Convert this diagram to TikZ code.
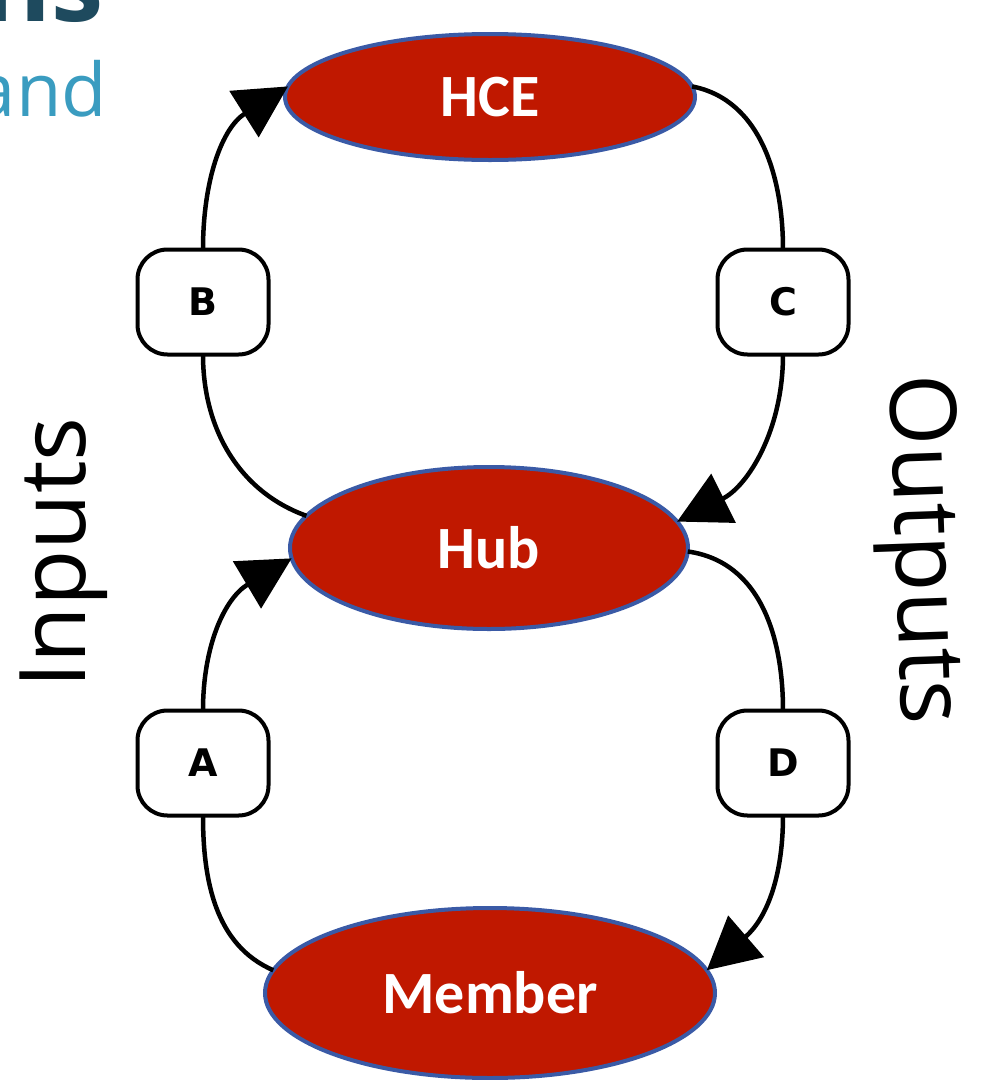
\documentclass[tikz,border=0pt]{standalone}
\usepackage{fontspec}
\setmainfont{Open Sans}
\newfontfamily\calib{Carlito}
\newfontfamily\boxfont{DejaVu Sans}
\usetikzlibrary{arrows.meta,shapes.geometric}
\definecolor{ellred}{HTML}{C01800}
\definecolor{ellblue}{HTML}{3A5AA6}
\definecolor{titleteal}{HTML}{1E4A5E}
\definecolor{subblue}{HTML}{3A9CC0}
\tikzset{
  ell/.style={ellipse, draw=ellblue, line width=4pt, fill=ellred, text=white,
    font=\calib\bfseries\fontsize{60}{60}\selectfont, inner sep=0pt, outer sep=0pt},
  lblbox/.style={draw=black, line width=4pt, fill=white, rounded corners=30pt,
    minimum width=131pt, minimum height=105pt, inner sep=0pt, outer sep=0pt,
    font=\boxfont\bfseries\fontsize{38}{38}\selectfont},
  conn/.style={draw=black, line width=4.5pt},
  tipped/.style={conn, -{Triangle[length=52pt,width=54pt]}},
  sidetext/.style={font=\fontsize{92}{92}\selectfont, inner sep=0pt}
}
\begin{document}
\begin{tikzpicture}[x=1pt,y=-1pt]
\useasboundingbox (0,0) rectangle (987,1080);
\clip (0,0) rectangle (987,1080);
% title fragments
\node[anchor=base east, inner sep=0pt, text=titleteal, font=\bfseries\fontsize{105}{105}\selectfont] (ttl) at (104,21) {ns};
\node[anchor=base east, inner sep=0pt, text=subblue, font=\fontsize{74}{74}\selectfont] (sub) at (107,116) {and};
% ellipses
\node[ell, minimum width=410pt, minimum height=126pt] (hce) at (490,97) {HCE};
\node[ell, minimum width=398pt, minimum height=162pt] (hub) at (489,548) {Hub};
\node[ell, minimum width=450pt, minimum height=170pt] (mem) at (490,993) {Member};
% boxes
\node[lblbox] (B) at (203,302) {B};
\node[lblbox] (C) at (783,302) {C};
\node[lblbox] (A) at (203,763) {A};
\node[lblbox] (D) at (783,763) {D};
% connectors
\draw[conn] (hub.170) .. controls (240,492) and (203,430) .. (B.south);
\draw[tipped] (B.north) .. controls (203,180) and (222,128) .. (hce.177);
\draw[conn] (hce.3) .. controls (762,100) and (783,180) .. (C.north);
\draw[tipped] (C.south) .. controls (783,430) and (748,486) .. (hub.8);
\draw[conn] (mem.174) .. controls (215,945) and (203,880) .. (A.south);
\draw[tipped] (A.north) .. controls (203,645) and (225,598) .. (hub.183);
\draw[conn] (hub.359) .. controls (762,562) and (783,640) .. (D.north);
\draw[tipped] (D.south) .. controls (783,880) and (765,920) .. (mem.6);
% side labels
\node[sidetext, rotate=90] (inp) at (64,553) {Inputs};
\node[sidetext, rotate=-88] (outp) at (918,550) {Outputs};
\end{tikzpicture}
\end{document}
